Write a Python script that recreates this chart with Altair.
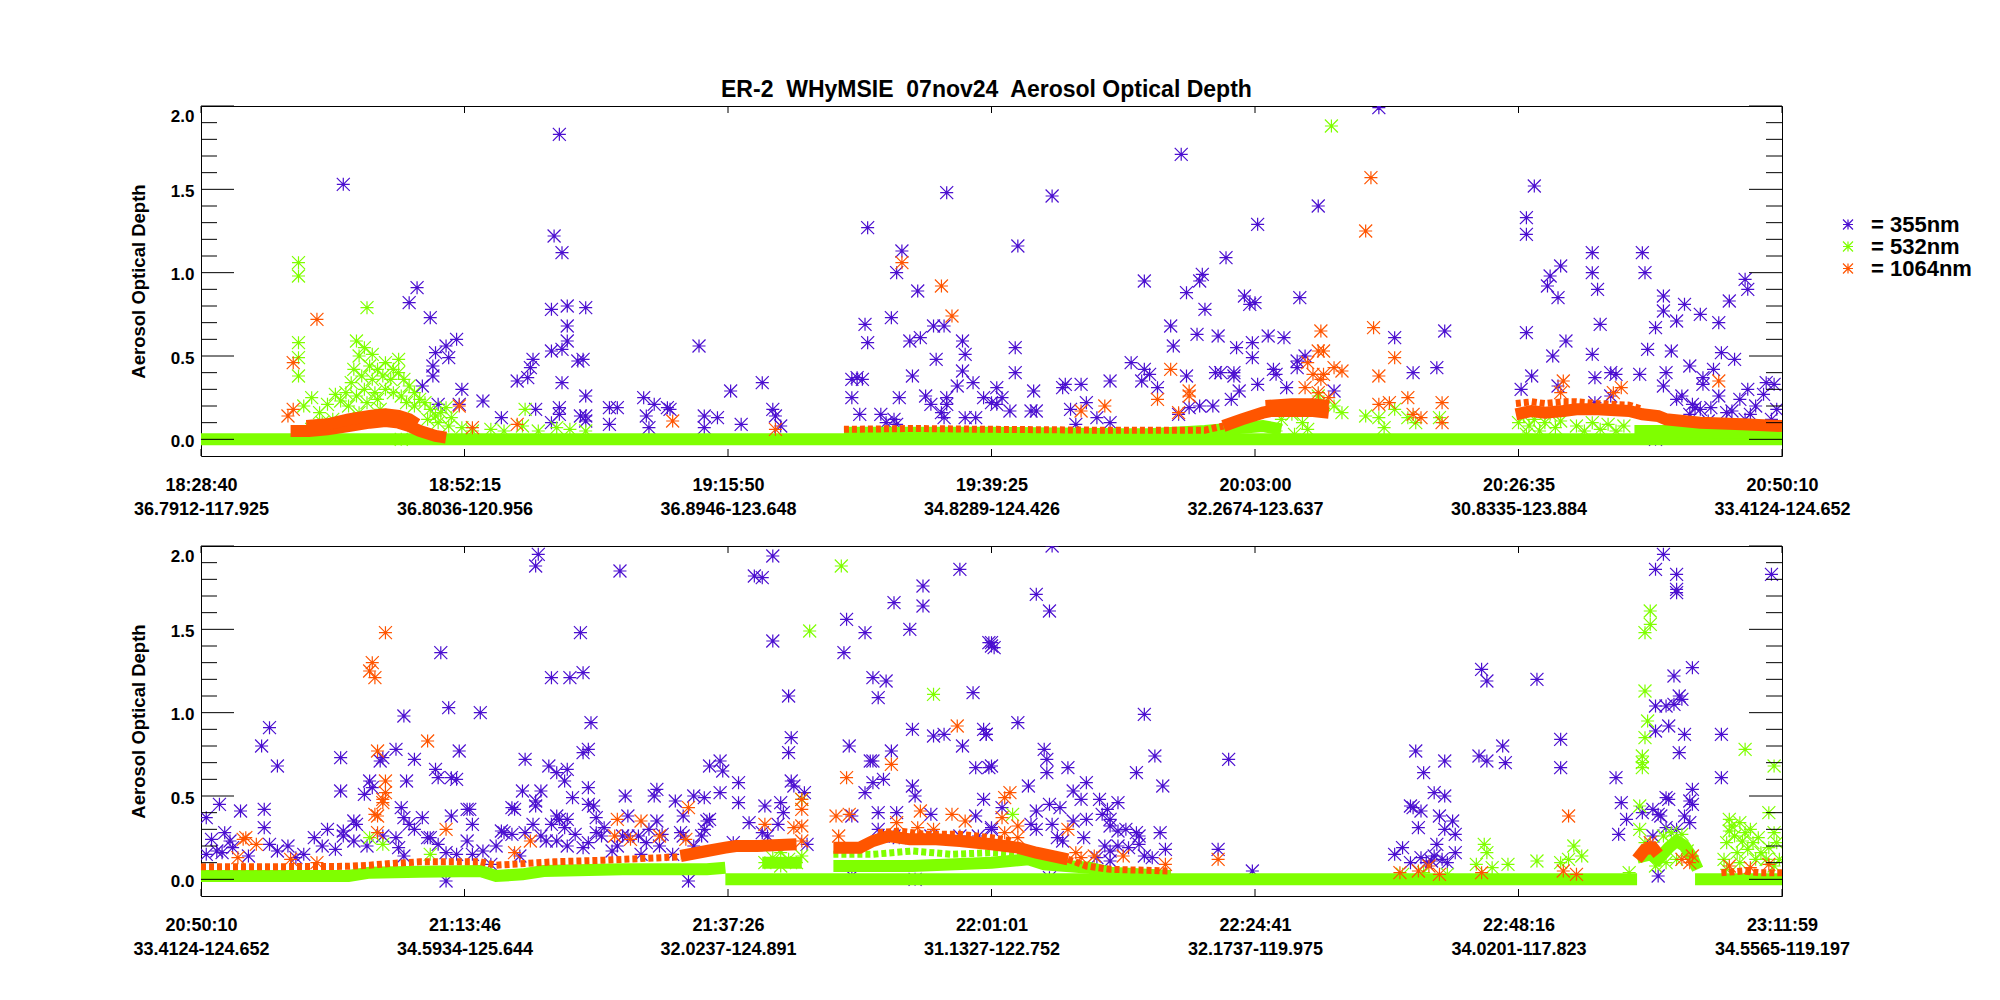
import altair as alt
import pandas as pd

FONT = "Liberation Sans"
PURPLE, GREEN, ORANGE = "#4b0fd0", "#7fff00", "#ff5500"
SERIES = ["355nm", "532nm", "1064nm"]
COLORS = [PURPLE, GREEN, ORANGE]
ASTER = "M0,-1L0,1M-1,0L1,0M-1,-1L1,1M-1,1L1,-1"

TITLE = "ER-2\u00a0 WHyMSIE\u00a0 07nov24\u00a0 Aerosol Optical Depth"
P1_TIMES = ["18:28:40", "18:52:15", "19:15:50", "19:39:25", "20:03:00", "20:26:35", "20:50:10"]
P1_LOCS = ["36.7912-117.925", "36.8036-120.956", "36.8946-123.648", "34.8289-124.426",
           "32.2674-123.637", "30.8335-123.884", "33.4124-124.652"]
P2_TIMES = ["20:50:10", "21:13:46", "21:37:26", "22:01:01", "22:24:41", "22:48:16", "23:11:59"]
P2_LOCS = ["33.4124-124.652", "34.5934-125.644", "32.0237-124.891", "31.1327-122.752",
           "32.1737-119.975", "34.0201-117.823", "34.5565-119.197"]
Y_MAJOR = [0.0, 0.5, 1.0, 1.5, 2.0]
Y_MINOR = [0.1, 0.2, 0.3, 0.4, 0.6, 0.7, 0.8, 0.9, 1.1, 1.2, 1.3, 1.4, 1.6, 1.7, 1.8, 1.9]
X_TICKS = [0, 1, 2, 3, 4, 5, 6]

# ---------------- panel 1 : (position along track in label intervals, AOD) ----------------
P1_355 = [
    (0.54, 1.53), (1.36, 1.83), (1.34, 1.22), (1.37, 1.12), (0.82, 0.91), (0.79, 0.82), (0.87, 0.73),
    (0.97, 0.60), (0.93, 0.56), (0.89, 0.52), (0.94, 0.49), (0.88, 0.44), (0.88, 0.38), (0.84, 0.32),
    (0.99, 0.30), (0.98, 0.21), (0.90, 0.21), (1.07, 0.23), (1.14, 0.13), (1.20, 0.35), (1.24, 0.37),
    (1.25, 0.43), (1.26, 0.48), (1.33, 0.53), (1.37, 0.54), (1.39, 0.59), (1.39, 0.68), (1.33, 0.78),
    (1.39, 0.80), (1.46, 0.79), (1.43, 0.47), (1.45, 0.48), (1.37, 0.34), (1.46, 0.26), (1.36, 0.19),
    (1.36, 0.15), (1.27, 0.18), (1.44, 0.14), (1.46, 0.14), (1.46, 0.11), (1.33, 0.10), (1.55, 0.19),
    (1.58, 0.19), (1.55, 0.09), (1.68, 0.25), (1.69, 0.14), (1.72, 0.21), (1.77, 0.19), (1.78, 0.18),
    (1.70, 0.07), (1.89, 0.56), (1.91, 0.14), (1.96, 0.13), (1.91, 0.07), (2.01, 0.29), (2.05, 0.09),
    (2.13, 0.34), (2.17, 0.18), (2.18, 0.14), (2.20, 0.08),
    (2.53, 1.27), (2.83, 1.48), (2.66, 1.13), (2.64, 1.00), (2.72, 0.89), (2.52, 0.69), (2.53, 0.58),
    (2.62, 0.73), (2.73, 0.61), (2.69, 0.59), (2.78, 0.68), (2.82, 0.68), (2.89, 0.59), (2.90, 0.51),
    (2.79, 0.48), (2.89, 0.41), (2.70, 0.38), (2.87, 0.32), (2.93, 0.34), (2.47, 0.36), (2.49, 0.37),
    (2.51, 0.36), (2.47, 0.25), (2.50, 0.15), (2.58, 0.15), (2.63, 0.12), (2.65, 0.25), (2.75, 0.26),
    (2.77, 0.21), (2.83, 0.25), (2.83, 0.21), (2.81, 0.16), (2.82, 0.13), (2.97, 0.25), (3.00, 0.22),
    (2.90, 0.13), (2.94, 0.13), (2.60, 0.10), (2.64, 0.09),
    (4.47, 1.99), (3.72, 1.71), (3.23, 1.46), (3.10, 1.16), (4.24, 1.40), (4.01, 1.29), (5.06, 1.52),
    (5.03, 1.33), (5.03, 1.23), (3.89, 1.09), (3.58, 0.95), (3.80, 0.99), (3.79, 0.95), (3.74, 0.88),
    (3.81, 0.78), (3.96, 0.86), (3.98, 0.81), (4.00, 0.82), (4.17, 0.85), (3.09, 0.55), (3.09, 0.40),
    (3.68, 0.68), (3.69, 0.56), (3.78, 0.63), (3.86, 0.62), (3.93, 0.55), (3.99, 0.58), (3.99, 0.49),
    (4.05, 0.62), (4.11, 0.61), (4.53, 0.61), (4.72, 0.65), (3.53, 0.46), (3.58, 0.42), (3.60, 0.39),
    (3.57, 0.35), (3.63, 0.31), (3.74, 0.38), (3.85, 0.40), (3.87, 0.40), (3.92, 0.40), (3.92, 0.38),
    (4.01, 0.33), (4.07, 0.42), (4.08, 0.39), (4.12, 0.31), (4.16, 0.47), (4.16, 0.43), (4.19, 0.50),
    (4.60, 0.40), (4.69, 0.43), (4.30, 0.29), (3.02, 0.31), (3.04, 0.25), (3.02, 0.21), (3.16, 0.29),
    (3.07, 0.17), (3.15, 0.17), (3.17, 0.17), (3.28, 0.33), (3.27, 0.31), (3.34, 0.33), (3.45, 0.35),
    (3.36, 0.22), (3.30, 0.18), (3.40, 0.13), (3.45, 0.10), (3.32, 0.09), (3.75, 0.19), (3.79, 0.20),
    (3.84, 0.20), (3.91, 0.24), (3.94, 0.29), (3.71, 0.15),
    (5.01, 0.30), (5.05, 0.38), (5.03, 0.64), (5.11, 0.92), (5.12, 0.98), (5.16, 1.04), (5.15, 0.85),
    (5.13, 0.50), (5.18, 0.59), (5.28, 1.12), (5.28, 1.00), (5.30, 0.90), (5.47, 1.12), (5.48, 1.00),
    (5.31, 0.69), (5.28, 0.51), (5.55, 0.86), (5.55, 0.77), (5.52, 0.67), (5.63, 0.81), (5.60, 0.71),
    (5.69, 0.75), (5.76, 0.70), (5.80, 0.83), (5.86, 0.96), (5.87, 0.90), (5.49, 0.54), (5.58, 0.53),
    (5.77, 0.52), (5.82, 0.48), (5.65, 0.44), (5.74, 0.42), (5.46, 0.39), (5.56, 0.40), (5.29, 0.37),
    (5.35, 0.40), (5.37, 0.39), (5.15, 0.32), (5.55, 0.32), (5.70, 0.37), (5.70, 0.33),
    (5.60, 0.24), (5.62, 0.26), (5.67, 0.19), (5.66, 0.21), (5.69, 0.18), (5.73, 0.19), (5.76, 0.26),
    (5.79, 0.16), (5.84, 0.24), (5.87, 0.30), (5.88, 0.15), (5.90, 0.20), (5.93, 0.27), (5.94, 0.34),
    (5.97, 0.33), (5.98, 0.18), (5.96, 0.12), (5.86, 0.12), (5.81, 0.17), (5.72, 0.11), (5.65, 0.15),
    (5.52, 0.00), (5.29, 0.22), (5.35, 0.26),
]
P1_532 = [
    (0.37, 1.06), (0.37, 0.98), (0.37, 0.58), (0.37, 0.49), (0.37, 0.38), (0.63, 0.79), (0.42, 0.25),
    (0.76, 0.00), (1.23, 0.18), (4.29, 1.88),
    (0.39, 0.20), (0.45, 0.16), (0.48, 0.21), (0.51, 0.27), (0.53, 0.23), (0.55, 0.28), (0.46, 0.10),
    (0.42, 0.06), (0.50, 0.12),
    (0.59, 0.59), (0.62, 0.55), (0.65, 0.51), (0.60, 0.50), (0.64, 0.44), (0.67, 0.42), (0.70, 0.46),
    (0.73, 0.42), (0.75, 0.48), (0.58, 0.42), (0.61, 0.38), (0.65, 0.36), (0.69, 0.38), (0.72, 0.36),
    (0.75, 0.40), (0.77, 0.36), (0.79, 0.32), (0.57, 0.34), (0.62, 0.30), (0.66, 0.28), (0.70, 0.30),
    (0.73, 0.28), (0.76, 0.26), (0.81, 0.28), (0.83, 0.24), (0.59, 0.26), (0.63, 0.22), (0.67, 0.24),
    (0.56, 0.20), (0.60, 0.16), (0.68, 0.18), (0.78, 0.22), (0.81, 0.20),
    (0.85, 0.22), (0.87, 0.18), (0.89, 0.14), (0.91, 0.16), (0.93, 0.19), (0.86, 0.12), (0.90, 0.10),
    (0.95, 0.13), (0.94, 0.08), (0.99, 0.07), (1.03, 0.05),
    (1.10, 0.06), (1.15, 0.05), (1.22, 0.08), (1.28, 0.05), (1.35, 0.07), (1.40, 0.06), (1.46, 0.05),
    (4.24, 0.26), (4.26, 0.22), (4.30, 0.20), (4.33, 0.16), (4.42, 0.14), (4.47, 0.13), (4.53, 0.18),
    (4.49, 0.07), (4.58, 0.13), (4.61, 0.10), (4.70, 0.13), (4.10, 0.12), (4.14, 0.15), (4.18, 0.10),
    (4.20, 0.06), (4.08, 0.05), (4.15, 0.03),
    (5.00, 0.10), (5.02, 0.14), (5.04, 0.08), (5.06, 0.12), (5.08, 0.05), (5.10, 0.10), (5.12, 0.15),
    (5.14, 0.07), (5.16, 0.11), (5.03, 0.03),
    (5.22, 0.08), (5.25, 0.05), (5.28, 0.10), (5.31, 0.06), (5.34, 0.09), (5.37, 0.05), (5.40, 0.08),
]
P1_1064 = [
    (0.44, 0.72), (0.35, 0.46), (0.33, 0.14), (0.35, 0.18), (0.98, 0.20), (1.03, 0.07), (1.20, 0.09),
    (1.79, 0.11), (2.18, 0.06), (2.66, 1.06), (2.81, 0.92), (2.85, 0.74), (4.44, 1.57), (4.42, 1.25),
    (4.25, 0.65), (4.45, 0.67), (4.53, 0.49), (4.47, 0.38), (4.24, 0.53), (4.26, 0.53), (4.30, 0.43),
    (4.33, 0.41), (4.26, 0.39), (4.25, 0.36), (4.22, 0.39), (4.20, 0.46), (4.19, 0.31), (4.28, 0.25),
    (4.24, 0.28), (3.68, 0.42), (3.63, 0.24), (3.75, 0.29), (3.75, 0.26), (3.71, 0.16), (3.43, 0.20),
    (3.34, 0.17), (4.58, 0.25), (4.71, 0.22), (4.71, 0.10), (4.63, 0.13), (4.60, 0.15), (4.47, 0.21),
    (4.51, 0.22), (5.17, 0.35), (5.16, 0.28), (5.39, 0.31), (5.36, 0.28), (5.76, 0.35),
]
# dense swaths of overlapping symbols (polylines through their centres): broad ones and sparse strips
P1_SWATH_532 = [
    [(0.0, 0.0), (6.0, 0.0)],
    [(2.44, 0.04), (3.0, 0.04), (3.5, 0.03), (3.6, 0.03), (3.81, 0.05), (3.95, 0.07), (4.03, 0.08), (4.10, 0.06)],
    [(5.44, 0.05), (5.6, 0.05), (5.8, 0.04), (6.0, 0.04)],
]
P1_STRIP_532 = []
P1_SWATH_1064 = [
    [(0.34, 0.05), (0.41, 0.05), (0.48, 0.06), (0.56, 0.08), (0.64, 0.10), (0.70, 0.11), (0.75, 0.10),
     (0.79, 0.08), (0.83, 0.05), (0.89, 0.02), (0.93, 0.01)],
    [(0.40, 0.08), (0.48, 0.09), (0.56, 0.12), (0.64, 0.14), (0.70, 0.15), (0.75, 0.14), (0.79, 0.12), (0.82, 0.09)],
    [(3.88, 0.08), (3.95, 0.12), (4.03, 0.16), (4.06, 0.17), (4.14, 0.17), (4.22, 0.17), (4.28, 0.16)],
    [(4.04, 0.20), (4.14, 0.21), (4.22, 0.21), (4.28, 0.20)],
    [(4.99, 0.15), (5.05, 0.17), (5.10, 0.16), (5.17, 0.17), (5.22, 0.18), (5.30, 0.18), (5.42, 0.17),
     (5.47, 0.15), (5.53, 0.14), (5.56, 0.12), (5.69, 0.10), (5.85, 0.09), (6.0, 0.08)],
]
P1_STRIP_1064 = [
    [(2.44, 0.06), (2.7, 0.065), (3.0, 0.06), (3.4, 0.055), (3.81, 0.055), (3.88, 0.08)],
    [(4.99, 0.215), (5.05, 0.225), (5.10, 0.215), (5.17, 0.225), (5.22, 0.225), (5.30, 0.215), (5.42, 0.205), (5.47, 0.18)],
]

# ---------------- panel 2 ----------------
P2_355 = [
    (1.28, 1.95), (1.27, 1.88), (1.59, 1.85), (2.17, 1.94), (2.10, 1.82), (2.13, 1.81), (2.88, 1.86),
    (2.74, 1.76), (2.74, 1.64), (2.63, 1.66), (2.45, 1.56), (2.52, 1.48), (2.69, 1.50), (2.17, 1.43),
    (2.44, 1.36), (2.99, 1.42), (3.00, 1.40), (1.44, 1.48), (0.91, 1.36), (1.33, 1.21), (1.40, 1.21),
    (1.45, 1.24), (2.55, 1.21), (2.60, 1.19), (2.57, 1.09), (2.23, 1.10), (2.93, 1.12), (0.94, 1.03),
    (0.77, 0.98), (1.06, 1.00), (0.26, 0.91), (0.23, 0.80), (0.29, 0.68), (1.48, 0.94), (2.24, 0.85),
    (2.23, 0.76), (2.46, 0.80), (2.70, 0.90), (2.78, 0.86), (2.82, 0.87), (2.89, 0.80), (2.97, 0.90),
    (2.98, 0.87), (0.53, 0.73), (0.68, 0.71), (0.69, 0.73), (0.74, 0.78), (0.81, 0.72), (0.98, 0.77),
    (1.23, 0.72), (1.45, 0.76), (1.47, 0.78), (0.89, 0.66), (0.90, 0.61), (0.95, 0.61), (0.97, 0.60),
    (1.32, 0.68), (1.35, 0.64), (1.39, 0.66), (1.38, 0.59), (1.93, 0.68), (1.97, 0.71), (1.98, 0.65),
    (2.04, 0.58), (2.54, 0.71), (2.55, 0.71), (2.62, 0.77), (2.59, 0.60), (2.55, 0.58), (2.94, 0.67),
    (2.99, 0.67), (2.24, 0.59), (2.25, 0.56), (0.53, 0.53), (0.64, 0.59), (0.65, 0.55), (0.62, 0.51),
    (0.78, 0.59), (1.22, 0.53), (1.29, 0.53), (1.47, 0.55), (1.41, 0.49), (1.61, 0.50), (1.73, 0.54),
    (1.72, 0.50), (1.80, 0.47), (1.87, 0.50), (1.91, 0.49), (1.97, 0.52), (2.04, 0.46), (2.29, 0.52),
    (2.52, 0.52), (2.70, 0.56), (2.71, 0.50), (2.97, 0.48), (0.07, 0.45), (0.15, 0.41), (0.24, 0.42),
    (0.02, 0.37), (0.24, 0.31), (0.76, 0.43), (0.77, 0.37), (0.79, 0.33), (0.84, 0.37), (0.95, 0.38),
    (1.01, 0.42), (1.02, 0.42), (1.03, 0.33), (0.58, 0.35), (0.59, 0.33), (1.19, 0.42), (1.18, 0.43),
    (1.27, 0.44), (1.27, 0.47), (1.35, 0.38), (1.36, 0.36), (1.39, 0.36), (1.33, 0.33), (1.47, 0.45),
    (1.49, 0.44), (1.50, 0.37), (1.62, 0.38), (1.73, 0.35), (1.83, 0.38), (1.92, 0.35), (1.93, 0.36),
    (2.08, 0.34), (2.14, 0.44), (2.20, 0.46), (2.19, 0.33), (2.21, 0.40), (2.57, 0.40), (2.64, 0.40),
    (2.77, 0.39), (2.47, 0.38), (2.94, 0.38), (3.00, 0.30),
    (0.04, 0.24), (0.06, 0.17), (0.09, 0.28), (0.11, 0.23), (0.08, 0.16), (0.02, 0.15), (0.26, 0.21),
    (0.29, 0.17), (0.39, 0.15), (0.43, 0.25), (0.48, 0.30), (0.46, 0.20), (0.54, 0.26), (0.54, 0.29),
    (0.58, 0.23), (0.74, 0.25), (0.75, 0.19), (0.77, 0.14), (0.86, 0.25), (0.87, 0.25), (0.90, 0.21),
    (0.93, 0.16), (0.97, 0.15), (1.01, 0.23), (1.03, 0.15), (1.07, 0.17), (1.10, 0.09), (1.14, 0.29),
    (1.15, 0.28), (1.18, 0.27), (1.21, 0.14), (1.23, 0.28), (1.26, 0.33), (1.29, 0.26), (1.31, 0.23),
    (1.38, 0.31), (1.39, 0.20), (1.42, 0.27), (1.45, 0.19), (1.50, 0.28), (1.52, 0.26), (1.53, 0.31),
    (1.58, 0.20), (1.60, 0.26), (1.62, 0.26), (1.66, 0.26), (1.67, 0.15), (1.70, 0.30), (1.74, 0.20),
    (1.75, 0.27), (1.79, 0.15), (1.82, 0.28), (1.83, 0.26), (1.90, 0.26), (1.91, 0.30), (2.02, 0.22),
    (2.13, 0.28), (2.15, 0.26), (2.30, 0.21), (2.57, 0.30), (2.59, 0.26), (2.63, 0.26), (2.65, 0.25),
    (2.77, 0.26), (2.88, 0.26), (2.95, 0.26), (0.93, -0.01), (1.85, -0.01), (2.71, 0.00), (2.47, 0.02),
    (0.12, 0.19), (0.18, 0.14), (0.33, 0.20), (0.36, 0.13), (0.51, 0.18), (0.63, 0.20), (0.69, 0.26),
    (0.81, 0.30), (1.12, 0.20), (1.35, 0.23), (1.47, 0.22), (1.56, 0.17), (1.69, 0.22), (1.87, 0.20),
    (3.23, 2.00), (3.17, 1.71), (3.22, 1.61), (3.00, 1.42), (3.01, 1.39), (3.10, 0.94), (2.98, 0.87),
    (3.58, 0.99), (3.20, 0.78), (3.21, 0.72), (3.00, 0.68), (3.21, 0.64), (3.29, 0.67), (3.62, 0.74),
    (3.55, 0.64), (3.65, 0.56), (3.90, 0.72), (3.14, 0.56), (3.36, 0.58), (3.31, 0.53), (3.34, 0.48),
    (3.41, 0.48), (3.22, 0.45), (3.26, 0.43), (3.17, 0.41), (3.04, 0.43), (3.48, 0.46), (3.44, 0.42),
    (3.42, 0.39), (3.45, 0.36), (3.15, 0.33), (3.17, 0.30), (3.23, 0.33), (3.31, 0.35), (3.36, 0.36),
    (3.45, 0.32), (3.00, 0.31), (3.64, 0.28), (3.48, 0.29), (3.51, 0.30), (3.55, 0.28), (3.56, 0.26),
    (3.25, 0.25), (3.27, 0.23), (3.35, 0.25), (3.43, 0.20), (3.45, 0.17), (3.48, 0.20), (3.52, 0.19),
    (3.56, 0.21), (3.58, 0.14), (3.61, 0.13), (3.66, 0.18), (3.45, 0.11), (3.40, 0.13), (3.22, 0.01),
    (3.86, 0.18), (3.99, 0.05),
    (4.86, 1.26), (4.88, 1.19), (5.07, 1.20), (4.61, 0.77), (4.72, 0.71), (4.64, 0.64), (4.85, 0.74),
    (4.88, 0.71), (4.94, 0.80), (4.95, 0.70), (5.16, 0.84), (5.16, 0.67), (4.68, 0.52), (4.72, 0.50),
    (4.59, 0.44), (4.60, 0.43), (4.63, 0.41), (4.70, 0.38), (4.75, 0.35), (4.72, 0.30), (4.76, 0.27),
    (4.62, 0.31), (4.56, 0.19), (4.53, 0.15), (4.69, 0.21), (4.76, 0.16), (4.68, 0.14), (4.63, 0.13),
    (4.67, 0.11), (4.71, 0.12), (4.73, 0.10), (4.59, 0.10), (4.65, 0.10),
    (5.55, 1.95), (5.52, 1.86), (5.60, 1.83), (5.60, 1.74), (5.60, 1.72), (5.96, 1.83), (5.66, 1.27),
    (5.59, 1.22), (5.61, 1.10), (5.62, 1.08), (5.52, 1.04), (5.56, 1.04), (5.59, 1.05), (5.57, 0.92),
    (5.52, 0.89), (5.63, 0.87), (5.77, 0.87), (5.61, 0.76), (5.37, 0.61), (5.77, 0.61), (5.66, 0.54),
    (5.39, 0.46), (5.56, 0.49), (5.57, 0.48), (5.65, 0.47), (5.66, 0.45), (5.51, 0.42), (5.53, 0.39),
    (5.54, 0.38), (5.47, 0.40), (5.41, 0.36), (5.63, 0.38), (5.65, 0.34), (5.38, 0.27), (5.51, 0.26),
    (5.56, 0.31), (5.60, 0.30), (5.53, 0.02),
]
P2_532 = [
    (2.43, 1.88), (2.31, 1.49), (2.78, 1.11), (2.28, 0.48), (0.64, 0.25), (0.69, 0.21), (0.87, 0.15),
    (3.08, 0.39), (5.50, 1.61), (5.50, 1.53), (5.48, 1.48), (5.48, 1.13), (5.49, 0.95), (5.48, 0.85),
    (5.47, 0.74), (5.47, 0.70), (5.47, 0.67), (5.86, 0.78), (5.97, 0.68), (5.95, 0.40), (5.46, 0.44),
    (5.46, 0.30),
    (4.87, 0.21), (4.88, 0.16), (4.96, 0.09), (5.07, 0.11), (5.21, 0.20), (5.19, 0.12), (5.24, 0.14),
    (5.16, 0.10), (4.84, 0.09), (4.90, 0.07), (4.56, 0.03), (4.64, 0.04), (4.73, 0.03), (5.42, 0.04),
    (5.80, 0.36), (5.84, 0.34), (5.88, 0.30), (5.82, 0.26), (5.79, 0.22), (5.92, 0.16), (5.97, 0.28),
    (5.98, 0.22), (5.81, 0.32), (5.86, 0.28), (5.89, 0.22), (5.94, 0.12), (5.78, 0.12), (5.83, 0.16),
    (5.99, 0.12), (5.80, 0.29), (5.85, 0.23), (5.87, 0.18), (5.91, 0.25), (5.95, 0.19), (5.84, 0.10),
    (5.90, 0.12), (5.97, 0.08), (5.79, 0.06),
    (2.14, 0.10), (2.17, 0.13), (2.20, 0.08), (2.23, 0.12), (2.26, 0.10), (2.28, 0.14), (2.20, 0.16),
    (5.48, 0.22), (5.55, 0.26), (5.58, 0.28), (5.62, 0.27), (5.64, 0.17), (5.52, 0.08), (5.56, 0.10),
    (5.60, 0.12),
]
P2_1064 = [
    (0.70, 1.48), (0.65, 1.30), (0.64, 1.25), (0.66, 1.21), (0.86, 0.83), (0.67, 0.77), (0.70, 0.59),
    (0.70, 0.52), (0.69, 0.48), (0.69, 0.46), (0.66, 0.39), (0.67, 0.38), (0.67, 0.28), (0.93, 0.30),
    (1.25, 0.23), (1.58, 0.36), (1.67, 0.35), (1.74, 0.26), (1.85, 0.43), (1.84, 0.24), (2.28, 0.48),
    (2.28, 0.42), (2.28, 0.32), (2.25, 0.31), (2.28, 0.23), (2.45, 0.61), (2.62, 0.69), (2.87, 0.92),
    (2.41, 0.38), (2.46, 0.39), (2.64, 0.34), (2.73, 0.41), (2.85, 0.39), (2.90, 0.35), (2.14, 0.33),
    (2.72, 0.31), (2.78, 0.30), (2.42, 0.26), (0.16, 0.24), (0.17, 0.25), (0.21, 0.21), (0.14, 0.13),
    (0.34, 0.12), (0.44, 0.10), (1.19, 0.16), (1.57, 0.26), (1.63, 0.24), (3.07, 0.52), (3.05, 0.49),
    (3.04, 0.37), (3.10, 0.32), (3.29, 0.30), (3.05, 0.28), (3.10, 0.25), (5.19, 0.38), (3.86, 0.12),
    (3.32, 0.16), (3.34, 0.13), (3.39, 0.14), (3.50, 0.14), (3.66, 0.09), (4.55, 0.04), (4.62, 0.05),
    (4.70, 0.03), (4.66, 0.08), (4.86, 0.04), (5.17, 0.05), (5.22, 0.03), (5.62, 0.12), (5.65, 0.10),
    (5.66, 0.14), (5.50, 0.22), (5.80, 0.08), (5.88, 0.07), (5.95, 0.09),
]
P2_SWATH_532 = [
    [(0.0, 0.02), (0.56, 0.02), (0.64, 0.04), (0.83, 0.045), (1.06, 0.05), (1.12, 0.02), (1.22, 0.03),
     (1.30, 0.05), (1.60, 0.06), (1.92, 0.06), (1.99, 0.07)],
    [(1.99, 0.0), (5.45, 0.0)],
    [(5.67, 0.0), (6.0, 0.0)],
    [(2.13, 0.10), (2.28, 0.10)],
    [(2.40, 0.08), (2.7, 0.08), (3.0, 0.10), (3.14, 0.12), (3.20, 0.09), (3.37, 0.07), (3.45, 0.04), (3.68, 0.02)],
    [(5.45, 0.13), (5.50, 0.15), (5.53, 0.12), (5.57, 0.19), (5.60, 0.23), (5.63, 0.20), (5.66, 0.13), (5.68, 0.06)],
]
P2_STRIP_532 = [
    [(2.40, 0.15), (2.55, 0.15), (2.7, 0.17), (2.85, 0.15), (3.0, 0.16), (3.14, 0.15)],
]
P2_SWATH_1064 = [
    [(1.82, 0.14), (1.92, 0.17), (1.99, 0.19), (2.03, 0.20), (2.11, 0.20), (2.26, 0.21)],
    [(2.40, 0.19), (2.50, 0.19), (2.55, 0.23), (2.61, 0.26), (2.69, 0.24), (2.79, 0.24), (2.88, 0.23),
     (3.0, 0.21), (3.10, 0.19), (3.17, 0.16), (3.29, 0.12)],
    [(5.45, 0.12), (5.48, 0.18), (5.51, 0.19), (5.53, 0.15)],
]
P2_STRIP_1064 = [
    [(0.0, 0.075), (0.17, 0.075), (0.56, 0.078), (0.64, 0.085), (0.72, 0.095), (0.83, 0.105), (1.06, 0.105),
     (1.12, 0.085), (1.34, 0.105), (1.53, 0.115), (1.82, 0.135)],
    [(2.57, 0.28), (2.65, 0.29), (2.75, 0.27), (2.88, 0.27), (3.0, 0.25), (3.08, 0.23)],
    [(3.29, 0.12), (3.36, 0.08), (3.45, 0.06), (3.68, 0.05)],
    [(5.77, 0.04), (5.85, 0.05), (5.92, 0.04), (6.0, 0.04)],
]

W, H = 1581, 350


def pts_df(pairs, name):
    return pd.DataFrame({"u": [p[0] for p in pairs], "v": [p[1] for p in pairs], "band": name})


def swath_df(segs, name):
    rows = []
    for k, seg in enumerate(segs):
        for u, v in seg:
            rows.append({"u": u, "v": v, "band": name, "seg": f"{name}-{k}"})
    return pd.DataFrame(rows, columns=["u", "v", "band", "seg"])


def js_list(items):
    return "[" + ",".join(f"'{s}'" for s in items) + "]"


def panel(p355, p532, p1064, s532, t532, s1064, t1064, times, locs):
    xs = alt.Scale(domain=[0, 6], nice=False, zero=False)
    ys = alt.Scale(domain=[-0.1, 2.0], nice=False, zero=False)
    lab = f"[{js_list(times)}[round(datum.value)], {js_list(locs)}[round(datum.value)]]"
    xaxis = alt.Axis(values=X_TICKS, labelExpr=lab, labelFont=FONT, labelFontSize=18,
                     labelFontWeight="bold", labelColor="black", labelPadding=20,
                     labelLineHeight=24, labelFlush=False, labelOverlap=False, labelBound=False,
                     ticks=False, domain=False, grid=False, title=None)
    yaxis = alt.Axis(values=Y_MAJOR, format=".1f", labelFont=FONT, labelFontSize=17,
                     labelFontWeight="bold", labelColor="black", labelPadding=7, labelFlush=True,
                     labelOffset=2, labelOverlap=False, ticks=False, domain=False, grid=False,
                     title="Aerosol Optical Depth", titleFont=FONT, titleFontSize=18.5,
                     titleFontWeight="bold", titleColor="black", titlePadding=22)
    X = alt.X("u:Q", scale=xs, axis=xaxis)
    Y = alt.Y("v:Q", scale=ys, axis=yaxis)
    color = alt.Color("band:N", scale=alt.Scale(domain=SERIES, range=COLORS),
                      legend=alt.Legend(orient="none", legendX=1636, legendY=107.5, title=None,
                                        labelExpr="'= ' + datum.label", labelFont=FONT,
                                        labelFontSize=22, labelFontWeight="bold",
                                        labelColor="black", symbolType=ASTER, symbolSize=100,
                                        symbolStrokeWidth=1.2, rowPadding=-4.5, labelOffset=12,
                                        padding=0))
    stroke = alt.Stroke("band:N", scale=alt.Scale(domain=SERIES, range=COLORS), legend=None)

    def points(pairs, name):
        return alt.Chart(pts_df(pairs, name)).mark_point(
            shape=ASTER, size=169, filled=False, strokeWidth=1.2, opacity=1, clip=True
        ).encode(x=X, y=Y, color=color)

    def swaths(segs, name, width, dash=None):
        kw = dict(strokeWidth=width, strokeCap="butt", clip=True)
        if dash:
            kw["strokeDash"] = dash
        return alt.Chart(swath_df(segs, name)).mark_line(**kw).encode(
            x=X, y=Y, detail="seg:N", stroke=stroke)

    ymaj = pd.DataFrame({"v": Y_MAJOR})
    ymin = pd.DataFrame({"v": Y_MINOR})
    xt = pd.DataFrame({"u": X_TICKS})
    rk = dict(color="black", strokeWidth=1)
    ticks = [
        alt.Chart(ymaj).mark_rule(**rk).encode(y=Y, x=alt.value(0), x2=alt.value(33)),
        alt.Chart(ymin).mark_rule(**rk).encode(y=Y, x=alt.value(0), x2=alt.value(16)),
        alt.Chart(ymaj).mark_rule(**rk).encode(y=Y, x=alt.value(W - 33), x2=alt.value(W)),
        alt.Chart(ymin).mark_rule(**rk).encode(y=Y, x=alt.value(W - 16), x2=alt.value(W)),
        alt.Chart(xt).mark_rule(**rk).encode(x=X, y=alt.value(0), y2=alt.value(7)),
        alt.Chart(xt).mark_rule(**rk).encode(x=X, y=alt.value(H - 7), y2=alt.value(H)),
    ]
    layers = [points(p355, "355nm"), swaths(s532, "532nm", 12)]
    if t532:
        layers.append(swaths(t532, "532nm", 7, [5, 3]))
    layers += [points(p532, "532nm"), swaths(s1064, "1064nm", 12)]
    if t1064:
        layers.append(swaths(t1064, "1064nm", 7, [5, 3]))
    layers.append(points(p1064, "1064nm"))
    return alt.layer(*(layers + ticks)).properties(width=W, height=H)


p1 = panel(P1_355, P1_532, P1_1064, P1_SWATH_532, P1_STRIP_532, P1_SWATH_1064, P1_STRIP_1064,
           P1_TIMES, P1_LOCS)
p2 = panel(P2_355, P2_532, P2_1064, P2_SWATH_532, P2_STRIP_532, P2_SWATH_1064, P2_STRIP_1064,
           P2_TIMES, P2_LOCS)

chart = alt.vconcat(p1, p2, spacing=90, bounds="flush").resolve_scale(
    color="shared", stroke="shared", x="independent", y="independent"
).properties(
    title=alt.TitleParams(text=TITLE, font=FONT, fontSize=23, fontWeight="bold", color="black",
                          anchor="middle", offset=3, dx=-64),
    padding={"left": 120, "top": 71, "right": 5, "bottom": 5},
).configure_view(stroke="black", strokeWidth=1)

chart.save("out.html", embed_options={"renderer": "svg", "actions": False})
